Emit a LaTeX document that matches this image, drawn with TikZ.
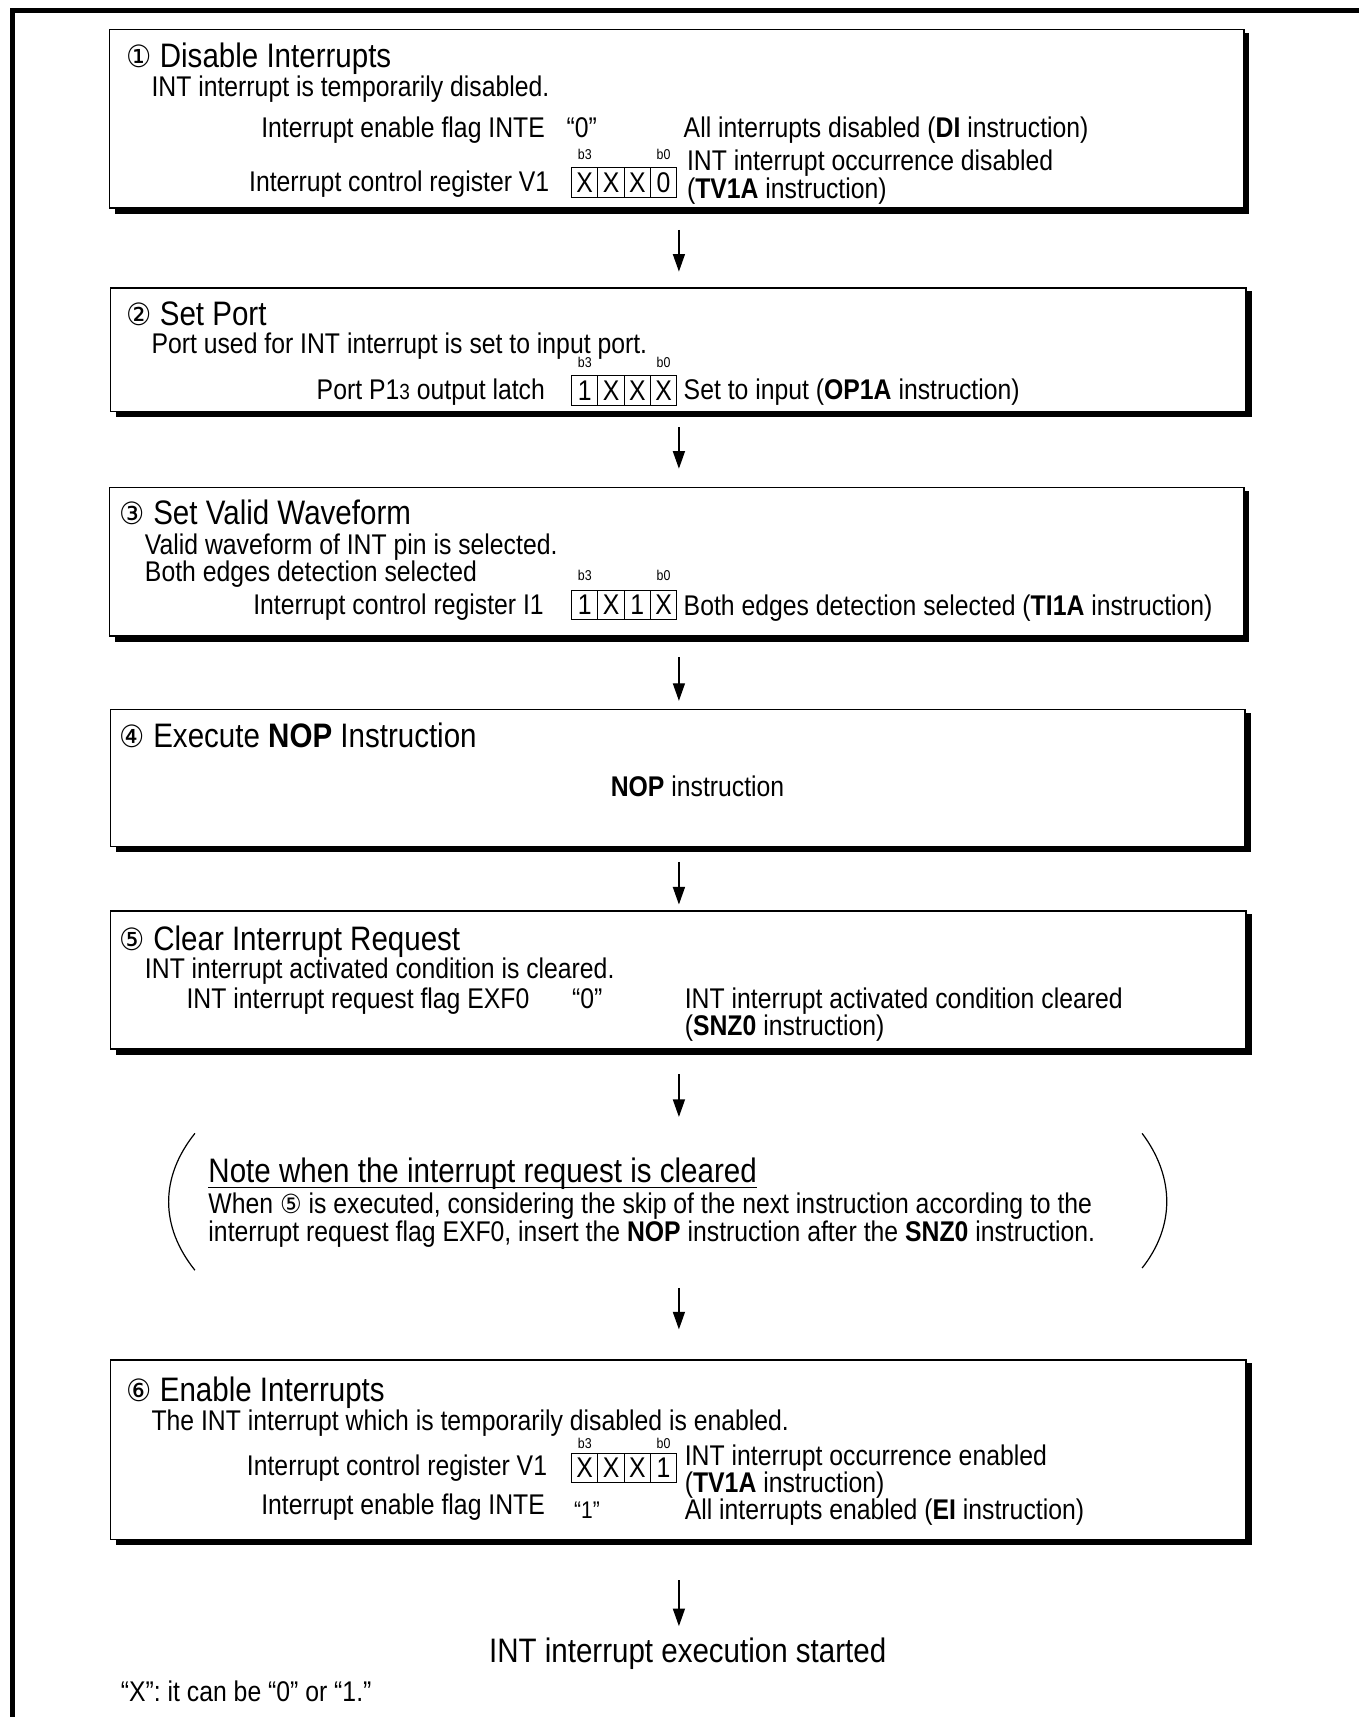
\documentclass[tikz,border=0pt]{standalone}
\usepackage{fontspec}
\setmainfont{Liberation Sans}[FakeStretch=0.87]
\newfontfamily\circf{DejaVu Sans}[FakeStretch=0.92]
\usetikzlibrary{arrows.meta}
\newcommand\bodyf{\fontsize{13}{15}\selectfont}
\newcommand\titlef{\fontsize{15.5}{18}\selectfont}
\newcommand\tinyf{\fontsize{6.5}{7}\selectfont}
\newcommand\cn[1]{{\circf\fontsize{14}{16}\selectfont #1}}
\newcommand\cnb[1]{{\circf\fontsize{12}{14}\selectfont #1}}
\newcommand\stepframe[5]{%
  \fill[shadowfill] ({#2+5},{#3+3}) rectangle ({#4+5},{#5+5});
  \path[boxline] (#2,#3) rectangle (#4,#5);
  \coordinate (#1) at ({(#2+#4)/2},{(#3+#5)/2});}
\newcommand\bitrow[7]{%
  \node[bitcell] (#1a) at ({#2+12},{#3+13.5}) {#4};
  \node[bitcell] (#1b) at ({#2+36},{#3+13.5}) {#5};
  \node[bitcell] (#1c) at ({#2+60},{#3+13.5}) {#6};
  \node[bitcell] (#1d) at ({#2+84},{#3+13.5}) {#7};}
\begin{document}
\begin{tikzpicture}[x=0.5pt,y=-0.5pt,
  txt/.style={inner sep=0pt,anchor=base west,font=\bodyf},
  txtr/.style={inner sep=0pt,anchor=base east,font=\bodyf},
  ttl/.style={inner sep=0pt,anchor=base west,font=\titlef},
  bitcell/.style={draw,line width=0.55pt,minimum width=12pt,minimum height=13.5pt,inner sep=0pt,font=\bodyf},
  bitlab/.style={inner sep=0pt,anchor=base,font=\tinyf},
  flow/.style={line width=0.6pt,-{Triangle[length=8pt,width=5.5pt]}},
  boxline/.style={draw=black,line width=0.7pt,fill=white},
  shadowfill/.style={fill=black},
  frameline/.style={line width=2.5pt},
  paren/.style={line width=0.55pt}]
\useasboundingbox (0,0) rectangle (1241,1568);
% outer frame (top and left only)
\coordinate (fbl) at (11.5,1568);
\coordinate (ftl) at (11.5,9.5);
\coordinate (ftr) at (1241,9.5);
\draw[frameline] (fbl) -- (ftl) -- (ftr);

% ---------- Box 1 ----------
\stepframe{box1}{100}{27}{1136}{190}
\node[ttl] (t1) at (115,62) {\cn{①} Disable Interrupts};
\node[txt] (t1a) at (138,88) {INT interrupt is temporarily disabled.};
\node[txtr] (t1b) at (498,126) {Interrupt enable flag INTE};
\node[txt] (t1c) at (517,126) {“0”};
\node[txt] (t1d) at (624,126) {All interrupts disabled (\textbf{DI} instruction)};
\node[txtr] (t1e) at (502,175) {Interrupt control register V1};
\bitrow{r1}{522}{153}{X}{X}{X}{0}
\node[bitlab] (r1h) at (534,146) {b3};
\node[bitlab] (r1l) at (606,146) {b0};
\node[txt] (t1f) at (627,156) {INT interrupt occurrence disabled};
\node[txt] (t1g) at (627,181) {(\textbf{TV1A} instruction)};

% ---------- Box 2 ----------
\stepframe{box2}{101}{263}{1138}{376}
\node[ttl] (t2) at (115,297) {\cn{②} Set Port};
\node[txt] (t2a) at (138,323) {Port used for INT interrupt is set to input port.};
\node[txtr] (t2b) at (498,365) {Port P1{\fontsize{10}{12}\selectfont 3} output latch};
\bitrow{r2}{522}{343}{1}{X}{X}{X}
\node[bitlab] (r2h) at (534,336) {b3};
\node[bitlab] (r2l) at (606,336) {b0};
\node[txt] (t2c) at (624,365) {Set to input (\textbf{OP1A} instruction)};

% ---------- Box 3 ----------
\stepframe{box3}{100}{445}{1136}{581}
\node[ttl] (t3) at (109,479) {\cn{③} Set Valid Waveform};
\node[txt] (t3a) at (132,506) {Valid waveform of INT pin is selected.};
\node[txt] (t3b) at (132,531) {Both edges detection selected};
\node[txtr] (t3c) at (497,561) {Interrupt control register I1};
\bitrow{r3}{522}{539}{1}{X}{1}{X}
\node[bitlab] (r3h) at (534,530) {b3};
\node[bitlab] (r3l) at (606,530) {b0};
\node[txt] (t3d) at (624,562) {Both edges detection selected (\textbf{TI1A} instruction)};

% ---------- Box 4 ----------
\stepframe{box4}{101}{648}{1137}{773}
\node[ttl] (t4) at (109,683) {\cn{④} Execute \textbf{NOP} Instruction};
\node[txt,anchor=base] (t4a) at (637,727) {\textbf{NOP} instruction};

% ---------- Box 5 ----------
\stepframe{box5}{101}{832}{1138}{958}
\node[ttl] (t5) at (109,868) {\cn{⑤} Clear Interrupt Request};
\node[txt] (t5a) at (132,894) {INT interrupt activated condition is cleared.};
\node[txt] (t5b) at (170,921) {INT interrupt request flag EXF0};
\node[txt] (t5c) at (522,921) {“0”};
\node[txt] (t5d) at (625,921) {INT interrupt activated condition cleared};
\node[txt] (t5e) at (625,946) {(\textbf{SNZ0} instruction)};

% ---------- Note ----------
\draw[paren] (178,1035) .. controls (146,1075) and (146,1120) .. (178,1160);
\draw[paren] (1043,1035) .. controls (1073,1075) and (1073,1120) .. (1043,1158);
\node[ttl] (nt) at (190,1080) {Note when the interrupt request is cleared};
\draw[line width=0.6pt] ([yshift=-2.2pt]nt.base west) -- ([yshift=-2.2pt]nt.base east);
\node[txt] (n1) at (190,1108) {When \cnb{⑤} is executed, considering the skip of the next instruction according to the};
\node[txt] (n2) at (190,1134) {interrupt request flag EXF0, insert the \textbf{NOP} instruction after the \textbf{SNZ0} instruction.};

% ---------- Box 6 ----------
\stepframe{box6}{101}{1242}{1138}{1406}
\node[ttl] (t6) at (115,1280) {\cn{⑥} Enable Interrupts};
\node[txt] (t6a) at (138,1306) {The INT interrupt which is temporarily disabled is enabled.};
\node[txtr] (t6b) at (500,1347) {Interrupt control register V1};
\bitrow{r6}{522}{1327}{X}{X}{X}{1}
\node[bitlab] (r6h) at (534,1323) {b3};
\node[bitlab] (r6l) at (606,1323) {b0};
\node[txt] (t6c) at (625,1338) {INT interrupt occurrence enabled};
\node[txt] (t6d) at (625,1363) {(\textbf{TV1A} instruction)};
\node[txtr] (t6e) at (498,1383) {Interrupt enable flag INTE};
\node[txt,font=\fontsize{11}{13}\selectfont] (t6f) at (524,1387) {“1”};
\node[txt] (t6g) at (625,1388) {All interrupts enabled (\textbf{EI} instruction)};

% ---------- End ----------
\node[ttl,anchor=base] (fin) at (628,1518) {INT interrupt execution started};
\node[txt] (foot) at (110,1554) {“X”: it can be “0” or “1.”};

% ---------- Arrows ----------
\coordinate (a1s) at (620,210);  \coordinate (a1e) at (620,248);
\coordinate (a2s) at (620,390);  \coordinate (a2e) at (620,428);
\coordinate (a3s) at (620,600);  \coordinate (a3e) at (620,640);
\coordinate (a4s) at (620,787);  \coordinate (a4e) at (620,826);
\coordinate (a5s) at (620,981);  \coordinate (a5e) at (620,1020);
\coordinate (a6s) at (620,1176); \coordinate (a6e) at (620,1214);
\coordinate (a7s) at (620,1443); \coordinate (a7e) at (620,1485);
\foreach \i in {1,...,7} {\draw[flow] (a\i s) -- (a\i e);}
\end{tikzpicture}
\end{document}
